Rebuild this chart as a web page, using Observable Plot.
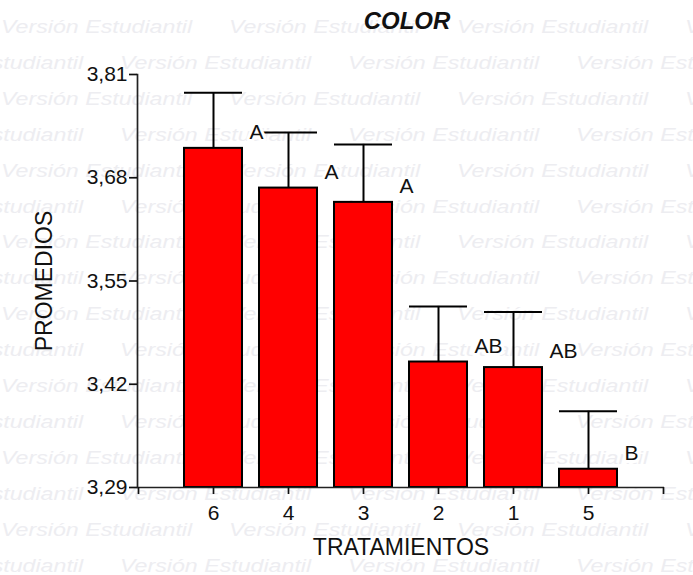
<!DOCTYPE html>
<html>
<head>
<meta charset="utf-8">
<script src="https://cdn.jsdelivr.net/npm/d3@7"></script>
<script src="https://cdn.jsdelivr.net/npm/@observablehq/plot@0.6"></script>
<style>
  html, body { margin: 0; padding: 0; background: #fff; }
  #wrap { position: relative; width: 693px; height: 575px; overflow: hidden; }
  #watermark { position: absolute; left: 0; top: 0; width: 693px; height: 575px; overflow: hidden; z-index: 0; }
  #watermark span {
    position: absolute; white-space: nowrap;
    font: italic 19px "Liberation Sans", Arial, sans-serif; color: #ededf1;
    transform: scaleX(1.22); transform-origin: left center; line-height: 1;
  }
  #chart { position: absolute; left: 0; top: 0; z-index: 1; }
</style>
</head>
<body>
<div id="wrap">
  <div id="watermark"></div>
  <div id="chart"></div>
</div>
<script>
// Treatment means for COLOR, sorted from highest to lowest
const treatments = ["6", "4", "3", "2", "1", "5"];
const means = [3.717, 3.667, 3.649, 3.448, 3.441, 3.313];
const errors = [0.070, 0.070, 0.073, 0.070, 0.070, 0.073];
const letters = ["A", "A", "A", "AB", "AB", "B"];
const yTicks = [3.29, 3.42, 3.55, 3.68, 3.81];
const yMin = 3.29, yMax = 3.81;

const rows = treatments.map((t, i) => ({
  t, mean: means[i], upper: means[i] + errors[i], letter: letters[i]
}));

// Light "Versión Estudiantil" background stamp
const wm = document.getElementById("watermark");
for (let r = 0; r < 16; r++) {
  const yc = 27 + r * 35.9;
  const x0 = r % 2 === 0 ? 1 : -108;
  for (let k = 0; k < 4; k++) {
    const s = document.createElement("span");
    s.textContent = "Versión Estudiantil";
    s.style.left = (x0 + k * 228) + "px";
    s.style.top = (yc - 10) + "px";
    wm.appendChild(s);
  }
}

const font = '"Liberation Sans", Arial, sans-serif';
const fmt = d => d.toFixed(2).replace(".", ",");

// Plot area; the x axis has an empty slot at each end so its end ticks sit on the frame edges
const W = 693, H = 575;
const mLeft = 137, mRight = 29, mTop = 74, mBottom = 88;
const left = mLeft, right = W - mRight;
const xDomain = ["", ...treatments, " "];
const pInner = 0.233;
const step = (right - left) / (xDomain.length - 1);
const bw = step * (1 - pInner);

const chart = Plot.plot({
  width: W,
  height: H,
  marginLeft: mLeft,
  marginRight: mRight,
  marginTop: mTop,
  marginBottom: mBottom,
  style: { background: "transparent", fontFamily: font, color: "#111", overflow: "visible" },
  x: { type: "band", domain: xDomain, paddingInner: pInner, paddingOuter: 0, range: [left - bw / 2, right + bw / 2] },
  y: { domain: [yMin, yMax] },
  marks: [
    Plot.barY(rows, { x: "t", y1: yMin, y2: "mean", fill: "#ff0000", stroke: "#000", strokeWidth: 2 }),
    Plot.ruleX(rows, { x: "t", y1: "mean", y2: "upper", stroke: "#000", strokeWidth: 2 }),
    Plot.tickY(rows, { x: "t", y: "upper", stroke: "#000", strokeWidth: 2 }),
    Plot.text(rows, {
      x: "t", y: "mean", text: "letter", textAnchor: "start", dx: 36, dy: -16,
      fontSize: 21, fill: "#111", stroke: "white", strokeWidth: 6
    }),
    Plot.frame({ anchor: "left", stroke: "#222", strokeWidth: 1.7 }),
    Plot.ruleY([yMin], { stroke: "#222", strokeWidth: 1.7 }),
    Plot.axisY({ ticks: yTicks, tickFormat: fmt, tickSize: 8, tickPadding: 2, fontSize: 21, strokeWidth: 1.7, label: null }),
    Plot.axisX({ tickSize: 7, tickPadding: 11, fontSize: 21, strokeWidth: 1.7, label: null }),
    Plot.text(["PROMEDIOS"], { frameAnchor: "left", textAnchor: "middle", rotate: -90, dx: -93, fontSize: 23, fill: "#111" }),
    Plot.text(["TRATAMIENTOS"], { frameAnchor: "bottom", dy: 67, fontSize: 23, fill: "#111" }),
    Plot.text(["COLOR"], { frameAnchor: "top", dx: 6, dy: -63, fontSize: 24, fontWeight: "bold", fontStyle: "italic", fill: "#111" })
  ]
});
document.getElementById("chart").appendChild(chart);
</script>
</body>
</html>
